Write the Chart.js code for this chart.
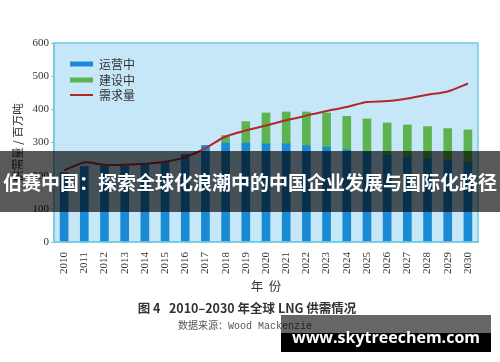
<!DOCTYPE html>
<html><head><meta charset="utf-8">
<script src="https://cdn.jsdelivr.net/npm/chart.js@4"></script>
<style>
html,body{margin:0;padding:0;background:#fff;}
#wrap{position:relative;width:500px;height:362px;overflow:hidden;}
#c{position:absolute;left:0;top:0;}
.cap1{position:absolute;left:-3px;width:500px;top:298px;text-align:center;font:bold 12.5px "Noto Sans CJK SC",sans-serif;color:#333;white-space:pre;}
.cap2{position:absolute;left:178px;top:317px;font:10px "Noto Sans CJK SC",serif;color:#555;white-space:pre;}
.cap2 span{font-family:"Liberation Mono",monospace;}
.banner{position:absolute;left:0;top:151px;width:500px;height:61px;background:rgba(0,0,0,0.65);color:#fff;font:bold 19px "Noto Sans CJK SC",sans-serif;text-align:center;line-height:61px;white-space:nowrap;}
.wm{position:absolute;left:281px;top:315px;width:210px;height:37px;background:linear-gradient(to bottom,rgba(0,0,0,0.6) 0%,rgba(0,0,0,0.6) 50%,#000 50%,#000 100%);color:#fff;font:bold 16px "Open Sans",sans-serif;text-align:center;line-height:45px;white-space:nowrap;}
</style></head>
<body><div id="wrap">
<canvas id="c" width="500" height="300" style="width:500px;height:300px"></canvas>
<div class="cap1">图 4   2010–2030 年全球 LNG 供需情况</div>
<div class="cap2">数据来源：<span>Wood Mackenzie</span></div>
<div class="banner">伯赛中国：探索全球化浪潮中的中国企业发展与国际化路径</div>
<div class="wm">www.skytreechem.com</div>
</div>
<script>
const years = ['2010','2011','2012','2013','2014','2015','2016','2017','2018','2019','2020','2021','2022','2023','2024','2025','2026','2027','2028','2029','2030'];
const operating = [209,228,228,228,233,240,264,291,298,298,296,296,291,286,278,270,261,255,251,245,240];
const construction = [0,0,0,0,0,0,0,0,23,65,93,96,101,103,101,101,98,98,97,97,98];
const demand = [216,240,233,233,236,242,256,283,318,336,351,367,381,395,407,422,425,433,444,454,478];
const yTicks = [0,100,200,300,400,500,600];

const CYAN = '#72cbe5';
const bgPlugin = {
  id:'bg',
  beforeDraw(chart){
    const {ctx, chartArea:a} = chart;
    ctx.save(); ctx.fillStyle='#c6e7f7';
    ctx.fillRect(a.left,a.top,a.right-a.left,a.bottom-a.top); ctx.restore();
  },
  afterDatasetsDraw(chart){
    const {ctx, chartArea:a} = chart;
    ctx.save();
    ctx.strokeStyle=CYAN; ctx.lineWidth=1.5;
    ctx.strokeRect(a.left,a.top,a.right-a.left,a.bottom-a.top);
    const items = chart.data.datasets.slice().sort((p,q)=>p.legendIdx-q.legendIdx);
    const ys=[64,80,95];
    ctx.font='12px "Noto Sans CJK SC", sans-serif';
    ctx.textBaseline='middle';
    items.forEach((d,i)=>{
      const y=ys[i];
      if(d.type==='line'){
        ctx.strokeStyle=d.borderColor; ctx.lineWidth=2;
        ctx.beginPath(); ctx.moveTo(70,y); ctx.lineTo(93,y); ctx.stroke();
      } else {
        ctx.fillStyle=d.backgroundColor; ctx.fillRect(70,y-2.5,23,5);
      }
      ctx.fillStyle='#333'; ctx.fillText(d.label,99,y);
    });
    ctx.restore();
  }
};

new Chart(document.getElementById('c'),{
  type:'bar',
  data:{labels:years,datasets:[
    {type:'line',label:'需求量',data:demand,borderColor:'#b3262c',backgroundColor:'#b3262c',borderWidth:2,pointRadius:0,tension:0.25,order:0,stack:'line',legendIdx:2},
    {label:'运营中',data:operating,backgroundColor:'#1a8ad4',barThickness:8,order:1,stack:'s',legendIdx:0},
    {label:'建设中',data:construction,backgroundColor:'#5db350',barThickness:8,order:1,stack:'s',legendIdx:1}
  ]},
  options:{
    responsive:false,animation:false,
    layout:{padding:{top:43,right:22,left:11,bottom:6}},
    plugins:{legend:{display:false},tooltip:{enabled:false}},
    scales:{
      x:{stacked:true,grid:{display:false},border:{color:CYAN,width:1.5},
        ticks:{minRotation:90,maxRotation:90,padding:2,color:'#333',font:{family:'"Liberation Serif", serif',size:11}},
        title:{display:true,text:'年  份',color:'#333',font:{family:'"Noto Sans CJK SC", serif',size:12.5},padding:{top:9,bottom:0}},
        afterFit(s){s.height=52;}},
      y:{stacked:true,min:0,max:600,
        afterBuildTicks(s){s.ticks=yTicks.map(v=>({value:v}));},
        grid:{drawOnChartArea:false,tickLength:3,color:CYAN},border:{color:CYAN,width:1.5},
        ticks:{padding:2,color:'#333',font:{family:'"Liberation Serif", serif',size:11}},
        title:{display:true,text:'供需量 / 百万吨',color:'#333',font:{family:'"Noto Sans CJK SC", sans-serif',size:11.5},padding:{top:0,bottom:4}},
        afterFit(s){s.width=43;}}
    }
  },
  plugins:[bgPlugin]
});
</script>
</body></html>
